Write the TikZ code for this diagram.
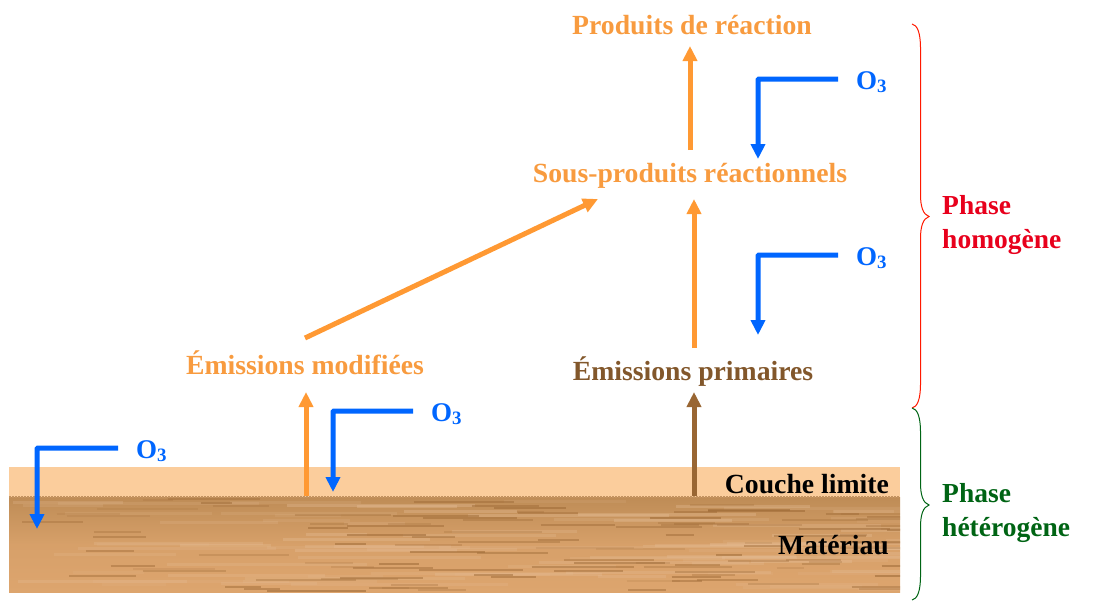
\documentclass[tikz,border=0pt]{standalone}
\usepackage{fontspec}
\setmainfont{Liberation Serif}
\usetikzlibrary{arrows.meta,calc}

\definecolor{orangeflux}{HTML}{FF9933}
\definecolor{orangetext}{HTML}{F89B3F}
\definecolor{brownflux}{HTML}{996633}
\definecolor{blueozone}{HTML}{0066FF}
\definecolor{redphase}{HTML}{E8001C}
\definecolor{greenphase}{HTML}{006414}
\definecolor{layerlight}{HTML}{FBCD9C}
\definecolor{woodtop}{HTML}{BE8C56}
\definecolor{woodlow}{HTML}{DDA56E}
\definecolor{woodstreak}{HTML}{A06C38}

\tikzset{
	label text/.style={font=\fontsize{27.7}{27.7}\selectfont\bfseries, inner sep=0pt},
	phase text/.style={inner sep=0pt, anchor=west, align=left, font=\fontsize{27.5}{34}\selectfont\bfseries},
	ozone/.style={font=\fontsize{27}{27}\selectfont\bfseries, text=blueozone, anchor=west, inner xsep=18pt, inner ysep=0pt, text height=20pt, text depth=0pt},
	flux/.style={-{Triangle[width=14pt,length=15pt]}, line width=5pt},
	ozone arrow/.style={flux, blueozone, rounded corners=1pt},
}

% accolade : haut, pointe, bas, couleur
\newcommand{\phasebrace}[4]{
	\draw[#4, line width=1pt] (912,#1) .. controls (917,{#1+1}) and (920.5,{#1+8}) .. (920.5,{#1+24})
		-- (920.5,{#2-22}) .. controls (920.5,{#2-10}) and (923,{#2-2}) .. (929,#2)
		.. controls (923,{#2+2}) and (920.5,{#2+10}) .. (920.5,{#2+22})
		-- (920.5,{#3-24}) .. controls (920.5,{#3-8}) and (917,{#3-1}) .. (912,#3);
}

\begin{document}
\begin{tikzpicture}[x=1pt, y=-1pt]
	\useasboundingbox (0,0) rectangle (1094,611);

	% couche limite et materiau
	\fill[layerlight] (9,467) rectangle (900,497);
	\fill[top color=woodtop, bottom color=woodlow, middle color=woodlow!80!woodtop] (9,497) rectangle (900,592);
	\begin{scope}
		\clip (9,497) rectangle (900,592);
		\pgfmathsetseed{4711}
		\foreach \i in {1,...,90}{
			\pgfmathsetmacro{\sx}{9+rnd*880}
			\pgfmathsetmacro{\sy}{499+rnd*92}
			\pgfmathsetmacro{\sl}{60+rnd*160}
			\pgfmathsetmacro{\so}{0.1+rnd*0.25}
			\draw[woodlow!70!white, line width=3pt, opacity=\so] (\sx,\sy) -- ++(\sl,0);
		}
		\foreach \i in {1,...,110}{
			\pgfmathsetmacro{\sx}{9+rnd*880}
			\pgfmathsetmacro{\sy}{499+rnd*92}
			\pgfmathsetmacro{\sl}{25+rnd*80}
			\pgfmathsetmacro{\so}{0.15+rnd*0.45}
			\draw[woodstreak, line width=2pt, opacity=\so] (\sx,\sy) -- ++(\sl,0);
		}
	\end{scope}
	\draw[woodstreak!60!layerlight, line width=2.5pt, dash pattern=on 1.5pt off 1.5pt] (9,497) -- (900,497);

	% textes
	\node[label text, text=orangetext] (produits) at (692,25) {Produits de réaction};
	\node[label text, text=orangetext] (sousproduits) at (690,176) {Sous-produits réactionnels};
	\node[label text, text=orangetext] (modifiees) at (305,363) {Émissions modifiées};
	\node[label text, text=brownflux!85!black] (primaires) at (693,372) {Émissions primaires};
	\node[label text, anchor=east] (couche) at (889,484) {Couche limite};
	\node[label text, anchor=east] (materiau) at (889,545) {Matériau};
	\node[phase text, text=redphase] (homogene) at (942,225) {Phase\\homogène};
	\node[phase text, text=greenphase] (heterogene) at (942,513) {Phase\\hétérogène};

	\node[ozone] (o3a) at (838,79) {O$_{\mathbf 3}$};
	\node[ozone] (o3b) at (838,255) {O$_{\mathbf 3}$};
	\node[ozone] (o3c) at (413,411) {O$_{\mathbf 3}$};
	\node[ozone] (o3d) at (118,448) {O$_{\mathbf 3}$};

	% extremites libres
	\coordinate (o3aend) at (758,159);
	\coordinate (o3bend) at (758,335);
	\coordinate (o3cend) at (333,492);
	\coordinate (o3dend) at (37,529);
	\coordinate (surfA) at (306,496);
	\coordinate (surfB) at (694,496);
	\coordinate (diagA) at (305,338);
	\coordinate (diagB) at (598,199);
	\coordinate (upA) at (690,150);
	\coordinate (upAend) at (690,46);
	\coordinate (upB) at (694,348);
	\coordinate (upBend) at (694,199);
	\coordinate (surfAend) at (306,392);
	\coordinate (surfBend) at (694,392);

	% fleches
	\draw[flux, orangeflux] (upA) -- (upAend);
	\draw[flux, orangeflux] (upB) -- (upBend);
	\draw[flux, orangeflux] (diagA) -- (diagB);
	\draw[flux, orangeflux] (surfA) -- (surfAend);
	\draw[flux, brownflux] (surfB) -- (surfBend);
	\draw[ozone arrow] (o3a.west) -| (o3aend);
	\draw[ozone arrow] (o3b.west) -| (o3bend);
	\draw[ozone arrow] (o3c.west) -| (o3cend);
	\draw[ozone arrow] (o3d.west) -| (o3dend);

	\phasebrace{24}{216.5}{408}{red!80!orange}
	\phasebrace{408}{505}{600}{greenphase}
\end{tikzpicture}
\end{document}
